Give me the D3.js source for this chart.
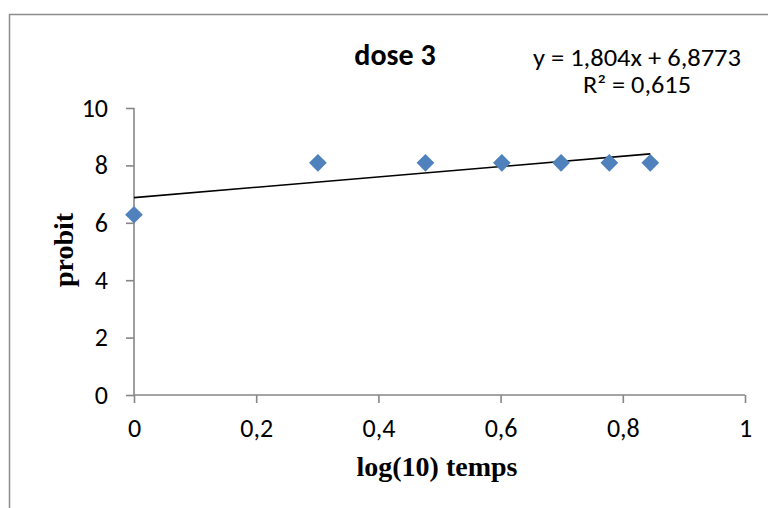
<!DOCTYPE html>
<html>
<head>
<meta charset="utf-8">
<script src="https://cdn.jsdelivr.net/npm/d3@7"></script>
<style>
  body { margin: 0; background: #fff; }
  svg { display: block; }
</style>
</head>
<body>
<div id="chart"></div>
<script>
// data
const logTemps = [0, 0.301, 0.477, 0.602, 0.699, 0.778, 0.845];
const probits = [6.28, 8.09, 8.09, 8.09, 8.09, 8.09, 8.09];
const xTicks = [0, 0.2, 0.4, 0.6, 0.8, 1];
const yTicks = [0, 2, 4, 6, 8, 10];
const slope = 1.804, intercept = 6.8773;

const W = 768, H = 508;
const margin = { top: 108, right: 23, bottom: 113, left: 134 };
const width = W - margin.left - margin.right;
const height = H - margin.top - margin.bottom;

const svg = d3.select('#chart').append('svg')
    .attr('width', W)
    .attr('height', H);

// chart frame (cut off right and bottom)
svg.append('rect')
    .attr('x', 9.5).attr('y', 14.5)
    .attr('width', W + 20).attr('height', H + 20)
    .attr('fill', 'none')
    .attr('stroke', '#8c8c8c')
    .attr('stroke-width', 1.5);

const g = svg.append('g')
    .attr('transform', `translate(${margin.left},${margin.top})`);

const x = d3.scaleLinear().domain([0, 1]).range([0, width]);
const y = d3.scaleLinear().domain([0, 10]).range([height, 0]);

const fmt = d => String(d).replace('.', ',');
const sans = 'Carlito, Lato, sans-serif';
const serif = '"Liberation Serif", "DejaVu Serif", serif';

// Y axis
const yAxis = g.append('g')
    .call(d3.axisLeft(y).tickValues(yTicks).tickSize(8).tickPadding(18).tickFormat(fmt));
// X axis
const xAxis = g.append('g')
    .attr('transform', `translate(0,${height})`)
    .call(d3.axisBottom(x).tickValues(xTicks).tickSize(8).tickPadding(16).tickFormat(fmt));

[yAxis, xAxis].forEach(a => {
    a.attr('font-size', null).attr('font-family', null);
    a.selectAll('path, line').attr('stroke', '#868686').attr('stroke-width', 1.6);
    a.selectAll('text')
        .attr('fill', '#000')
        .style('font-family', sans)
        .style('font-size', '26px');
});
xAxis.select('.domain').attr('d', `M0,0H${width}`);
yAxis.select('.domain').attr('d', `M0,${height}V0`);

// trend line
g.append('line')
    .attr('x1', x(0)).attr('y1', y(intercept))
    .attr('x2', x(d3.max(logTemps))).attr('y2', y(intercept + slope * d3.max(logTemps)))
    .attr('stroke', '#000')
    .attr('stroke-width', 1.6);

// markers
g.selectAll('.pt')
    .data(logTemps.map((v, i) => ({ x: v, y: probits[i] })))
    .enter().append('path')
    .attr('class', 'pt')
    .attr('d', d3.symbol().type(d3.symbolDiamond2).size(200))
    .attr('transform', d => `translate(${x(d.x)},${y(d.y)})`)
    .attr('fill', '#4f81bd');

// titles
svg.append('text')
    .attr('x', 395).attr('y', 65)
    .attr('text-anchor', 'middle')
    .style('font-family', sans)
    .style('font-weight', 'bold')
    .style('font-size', '30px')
    .text('dose 3');

svg.append('text')
    .attr('x', 637).attr('y', 66)
    .attr('text-anchor', 'middle')
    .attr('textLength', 208).attr('lengthAdjust', 'spacingAndGlyphs')
    .style('font-family', sans)
    .style('font-size', '24px')
    .text('y = 1,804x + 6,8773');

svg.append('text')
    .attr('x', 637).attr('y', 93)
    .attr('text-anchor', 'middle')
    .attr('textLength', 108).attr('lengthAdjust', 'spacingAndGlyphs')
    .style('font-family', sans)
    .style('font-size', '24px')
    .text('R² = 0,615');

svg.append('text')
    .attr('x', 437).attr('y', 476)
    .attr('text-anchor', 'middle')
    .style('font-family', serif)
    .style('font-weight', 'bold')
    .style('font-size', '28px')
    .text('log(10) temps');

svg.append('text')
    .attr('transform', 'translate(73,250) rotate(-90)')
    .attr('text-anchor', 'middle')
    .style('font-family', serif)
    .style('font-weight', 'bold')
    .style('font-size', '28px')
    .text('probit');
</script>
</body>
</html>
